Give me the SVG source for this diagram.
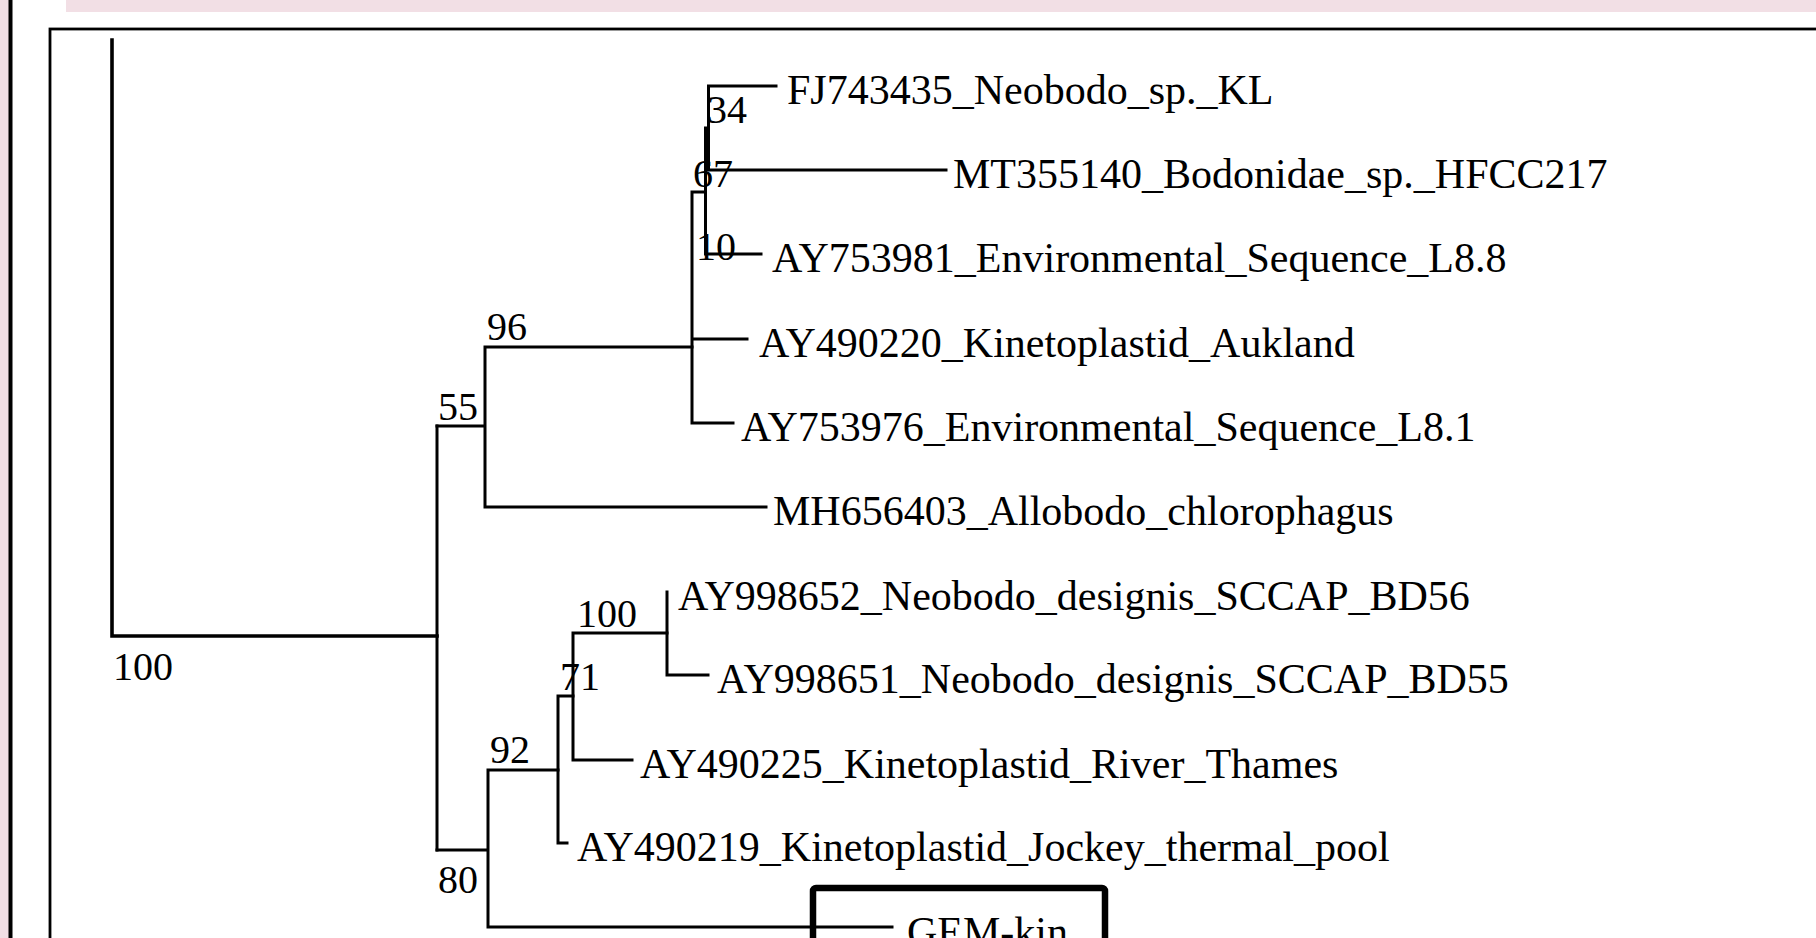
<svg xmlns="http://www.w3.org/2000/svg" width="1816" height="938" viewBox="0 0 1816 938">
<style>
.bg-pink{fill:#f2dfe5}
.tree{fill:none;stroke:#000;stroke-width:3;stroke-linecap:square}
.lbl{font-family:"Liberation Serif","Times New Roman",serif;font-size:42px;fill:#000}
.sup{font-family:"Liberation Serif","Times New Roman",serif;font-size:40px;fill:#000}
</style>
<rect x="0" y="0" width="1816" height="938" fill="#fff"/>
<rect class="bg-pink" x="0" y="0" width="9" height="938"/>
<rect class="bg-pink" x="66" y="0" width="1750" height="12"/>
<rect x="8.5" y="0" width="4" height="938" fill="#000"/>
<rect x="50" y="29" width="1800" height="950" fill="#fff" stroke="#000" stroke-width="2.8"/>
<g id="connectors" class="tree">
<path d="M112,40 V636 H437" stroke-width="3.6"/>
<path d="M437,426 V850"/>
<path d="M437,426 H485 M485,347 V507 M485,347 H692 M485,507 H766"/>
<path d="M692,192 V423 M692,192 H705 M692,339 H747 M692,423 H733"/>
<path d="M705.5,128 V254 M705.5,254 H761 M705.5,128 H708.5"/>
<path d="M708.5,86 V170 M708.5,86 H776 M708.5,170 H946"/>
<path d="M437,850 H488 M488,770 V927 M488,770 H558 M488,927 H892"/>
<path d="M558,696 V843 M558,696 H573 M558,843 H567"/>
<path d="M573,633 V760 M573,760 H632 M573,633 H667"/>
<path d="M667,592 V675 M667,675 H708"/>
</g>
<g id="taxon-FJ743435"><text class="lbl" x="787" y="104">FJ743435_Neobodo_sp._KL</text></g>
<g id="taxon-MT355140"><text class="lbl" x="953" y="188">MT355140_Bodonidae_sp._HFCC217</text></g>
<g id="taxon-AY753981"><text class="lbl" x="772" y="272">AY753981_Environmental_Sequence_L8.8</text></g>
<g id="taxon-AY490220"><text class="lbl" x="759" y="357">AY490220_Kinetoplastid_Aukland</text></g>
<g id="taxon-AY753976"><text class="lbl" x="741" y="441">AY753976_Environmental_Sequence_L8.1</text></g>
<g id="taxon-MH656403"><text class="lbl" x="773" y="525">MH656403_Allobodo_chlorophagus</text></g>
<g id="taxon-AY998652"><text class="lbl" x="678" y="610">AY998652_Neobodo_designis_SCCAP_BD56</text></g>
<g id="taxon-AY998651"><text class="lbl" x="717" y="693">AY998651_Neobodo_designis_SCCAP_BD55</text></g>
<g id="taxon-AY490225"><text class="lbl" x="640" y="778">AY490225_Kinetoplastid_River_Thames</text></g>
<g id="taxon-AY490219"><text class="lbl" x="577" y="861">AY490219_Kinetoplastid_Jockey_thermal_pool</text></g>
<g id="taxon-GEM-kin">
<rect x="813" y="888" width="292" height="100" rx="3" fill="none" stroke="#000" stroke-width="6.5"/>
<text class="lbl" x="907" y="946">GEM-kin</text>
</g>
<g id="support-values">
<text class="sup" x="113" y="680">100</text>
<text class="sup" x="438" y="420">55</text>
<text class="sup" x="487" y="340">96</text>
<text class="sup" x="707" y="123">34</text>
<text class="sup" x="693" y="187">67</text>
<text class="sup" x="696" y="260">10</text>
<text class="sup" x="577" y="627">100</text>
<text class="sup" x="560" y="690">71</text>
<text class="sup" x="490" y="763">92</text>
<text class="sup" x="438" y="893">80</text>
</g>
</svg>
